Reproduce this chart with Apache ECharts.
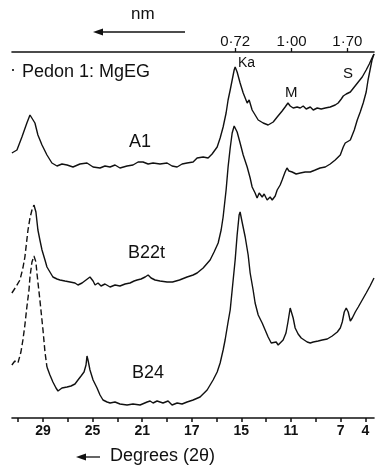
<!DOCTYPE html>
<html>
<head>
<meta charset="utf-8">
<script src="https://cdn.jsdelivr.net/npm/echarts@6/dist/echarts.min.js"></script>
<style>
  html, body { margin: 0; padding: 0; background: #fff; }
  #chart { width: 375px; height: 472px; }
</style>
</head>
<body>
<div id="chart"></div>
<script>
// 2-theta ticks (bottom) and d-spacing marks (top)
const tickValues = [31, 29, 27, 25, 23, 21, 19, 17, 15, 13, 11, 9, 7, 5, 3]
const labelValues = [29, 25, 21, 17, 13, 9, 5, 3]
const labelTexts = ['29', '25', '21', '17', '15', '11', '7', '4']
const nmValues = [13.5, 8.95, 4.45]
const nmTexts = ['0·72', '1·00', '1·70']

// traces: [2theta, intensity]
const a1 = [
    [31.51, 265], [31.10, 268], [30.70, 281], [30.30, 295], [30.05, 303], [29.89, 304],
    [29.65, 295], [29.41, 283], [29.08, 273], [28.68, 263], [28.28, 255], [27.87, 252],
    [27.47, 254], [27.06, 253], [26.58, 251], [26.02, 254], [25.45, 255], [24.96, 251],
    [24.40, 250], [24.00, 252], [23.59, 251], [23.19, 253], [22.79, 250], [22.22, 252],
    [21.74, 253], [21.33, 256], [20.93, 256], [20.52, 254], [20.12, 255], [19.56, 254],
    [18.99, 255], [18.59, 252], [18.18, 251], [17.78, 254], [17.38, 255], [16.89, 256],
    [16.57, 260], [16.08, 261], [15.68, 260], [15.36, 264], [14.95, 271], [14.71, 280],
    [14.47, 291], [14.23, 305], [14.07, 318], [13.90, 328], [13.74, 338], [13.58, 348],
    [13.50, 351], [13.34, 346], [13.10, 335], [12.85, 325], [12.53, 315], [12.37, 318],
    [12.13, 308], [11.64, 298], [11.24, 295], [10.84, 293], [10.43, 296], [10.11, 301],
    [9.71, 307], [9.47, 311], [9.24, 315], [9.06, 312], [8.82, 310], [8.50, 311],
    [8.25, 310], [8.01, 312], [7.77, 309], [7.44, 311], [7.20, 308], [6.88, 310],
    [6.56, 309], [6.23, 310], [5.83, 311], [5.43, 313], [5.19, 315], [4.94, 319],
    [4.78, 322], [4.54, 324], [4.21, 326], [3.89, 331], [3.57, 336], [3.25, 341],
    [2.93, 348], [2.68, 354], [2.46, 360], [2.30, 364]
]

const b22tRise = [
    [31.51, 125], [31.19, 131], [30.86, 138], [30.62, 150], [30.46, 161], [30.21, 188],
    [30.05, 200], [29.89, 208], [29.73, 213]
]
const b22t = [
    [29.73, 213], [29.57, 206], [29.41, 188], [29.25, 178], [29.08, 168], [28.84, 158],
    [28.68, 151], [28.44, 146], [28.20, 141], [27.87, 139], [27.63, 138], [27.23, 137],
    [26.82, 136], [26.42, 135], [26.18, 133], [25.85, 135], [25.53, 138], [25.21, 141],
    [24.96, 137], [24.80, 133], [24.56, 135], [24.32, 132], [24.00, 134], [23.59, 131],
    [23.19, 133], [22.79, 132], [22.38, 134], [21.98, 135], [21.65, 137], [21.41, 138],
    [21.09, 139], [20.76, 141], [20.52, 143], [20.28, 140], [19.96, 138], [19.56, 137],
    [18.99, 136], [18.55, 136], [17.99, 138], [17.38, 141], [16.89, 143], [16.57, 145],
    [16.08, 150], [15.52, 158], [15.20, 166], [14.87, 175], [14.63, 188], [14.47, 201],
    [14.23, 228], [14.07, 251], [13.90, 270], [13.74, 285], [13.58, 292], [13.50, 293],
    [13.34, 286], [13.10, 275], [12.85, 263], [12.53, 251], [12.29, 240], [12.13, 231],
    [11.89, 225], [11.73, 220], [11.56, 225], [11.32, 221], [11.16, 224], [10.92, 218],
    [10.68, 221], [10.51, 218], [10.27, 222], [10.11, 228], [9.87, 233], [9.71, 238],
    [9.47, 246], [9.32, 250], [9.16, 247], [8.90, 246], [8.58, 244], [8.25, 245],
    [7.85, 246], [7.44, 246], [7.04, 248], [6.65, 250], [6.23, 251], [5.83, 254],
    [5.43, 258], [5.02, 263], [4.78, 271], [4.62, 275], [4.46, 273], [4.21, 278],
    [3.89, 288], [3.65, 298], [3.41, 306], [3.17, 315], [2.93, 326], [2.78, 338],
    [2.62, 348], [2.46, 358], [2.30, 364]
]

const b24Dashed = [
    [31.51, 53], [31.27, 57], [31.02, 55], [30.78, 66], [30.62, 78], [30.46, 93],
    [30.30, 111], [30.13, 128], [30.05, 141], [29.89, 156], [29.73, 162], [29.57, 156],
    [29.49, 145], [29.25, 118], [29.00, 88], [28.84, 66], [28.68, 51]
]
const b24 = [
    [28.68, 51], [28.44, 43], [28.20, 36], [27.95, 30], [27.79, 27], [27.47, 30],
    [27.06, 31], [26.74, 32], [26.42, 34], [26.18, 38], [25.93, 42], [25.69, 46],
    [25.53, 53], [25.45, 62], [25.37, 58], [25.21, 48], [24.96, 38], [24.64, 30],
    [24.40, 23], [24.16, 18], [23.83, 16], [23.59, 15], [23.19, 16], [22.79, 14],
    [22.22, 13], [21.74, 14], [21.17, 13], [20.60, 16], [20.36, 17], [20.12, 15],
    [19.80, 17], [19.32, 15], [18.91, 17], [18.59, 13], [18.18, 15], [17.78, 14],
    [17.38, 16], [16.89, 18], [16.33, 21], [15.76, 28], [15.28, 38], [14.95, 46],
    [14.71, 55], [14.47, 68], [14.31, 78], [14.07, 96], [13.90, 108], [13.74, 128],
    [13.50, 158], [13.34, 183], [13.18, 203], [13.10, 206], [12.94, 196], [12.69, 181],
    [12.45, 163], [12.29, 145], [12.05, 128], [11.89, 115], [11.64, 103], [11.32, 95],
    [11.08, 88], [10.84, 81], [10.59, 75], [10.43, 73], [10.19, 76], [10.03, 73],
    [9.87, 75], [9.63, 78], [9.40, 85], [9.24, 96], [9.06, 110], [8.98, 112],
    [8.82, 100], [8.66, 90], [8.42, 84], [8.17, 80], [8.01, 78], [7.69, 76],
    [7.44, 75], [7.20, 76], [6.80, 77], [6.48, 78], [6.07, 79], [5.67, 82],
    [5.26, 86], [5.02, 90], [4.86, 96], [4.70, 106], [4.54, 110], [4.38, 106],
    [4.21, 97], [4.05, 100], [3.81, 106], [3.57, 111], [3.25, 118], [2.93, 125],
    [2.62, 132], [2.30, 140]
]

const ink = '#111'
const font = '"Liberation Sans", Arial, sans-serif'

function trace (data, dashed) {
    return {
        type: 'line',
        data: data,
        showSymbol: false,
        silent: true,
        animation: false,
        lineStyle: {color: ink, width: 1.4, type: dashed ? [6, 3] : 'solid'}
    }
}

function label (text, x, y, size) {
    return {
        type: 'text',
        left: x,
        top: y,
        silent: true,
        style: {text: text, fill: ink, font: (size || 13) + 'px ' + font}
    }
}

const chart = echarts.init(document.getElementById('chart'), null, {renderer: 'canvas'})

const baseAxis = {
    type: 'value',
    inverse: true,
    min: 2.3,
    max: 31.5,
    splitLine: {show: false},
    axisLine: {show: true, lineStyle: {color: ink, width: 1.6}}
}

chart.setOption({
    backgroundColor: '#fff',
    animation: false,
    grid: {left: 12, right: 1, top: 52, bottom: 54},
    xAxis: [
        Object.assign({}, baseAxis, {
            position: 'bottom',
            axisTick: {show: true, length: 4, lineStyle: {color: ink, width: 1.5}, customValues: tickValues},
            axisLabel: {
                customValues: labelValues,
                margin: 6,
                color: ink,
                fontSize: 14,
                fontWeight: 'bold',
                fontFamily: font,
                formatter: function (v) {
                    const i = labelValues.indexOf(v)
                    return i > -1 ? labelTexts[i] : ''
                }
            }
        }),
        Object.assign({}, baseAxis, {
            position: 'top',
            axisTick: {show: true, length: 4, lineStyle: {color: ink, width: 1.3}, customValues: nmValues},
            axisLabel: {
                customValues: nmValues,
                margin: 3,
                color: ink,
                fontSize: 15,
                fontFamily: font,
                formatter: function (v) {
                    const i = nmValues.indexOf(v)
                    return i > -1 ? nmTexts[i] : ''
                }
            }
        })
    ],
    yAxis: {
        type: 'value',
        min: 0,
        max: 366,
        show: false
    },
    series: [
        trace(a1),
        trace(b22tRise, true),
        trace(b22t),
        trace(b24Dashed, true),
        trace(b24)
    ],
    graphic: [
        label('nm', 131, 6, 17),
        {
            type: 'line', silent: true,
            shape: {x1: 100, y1: 32, x2: 185, y2: 32},
            style: {stroke: ink, lineWidth: 1.6}
        },
        {
            type: 'polygon', silent: true,
            shape: {points: [[93, 32], [103, 28.5], [103, 35.5]]},
            style: {fill: ink}
        },
        label('·', 10, 61, 18),
        label('Pedon 1: MgEG', 22, 63, 18),
        label('Ka', 238, 56, 14),
        label('M', 285, 85, 15),
        label('S', 343, 66, 15),
        label('A1', 129, 133, 18),
        label('B22t', 128, 244, 18),
        label('B24', 132, 364, 18),
        {
            type: 'line', silent: true,
            shape: {x1: 84, y1: 457, x2: 100, y2: 457},
            style: {stroke: ink, lineWidth: 1.3}
        },
        {
            type: 'polygon', silent: true,
            shape: {points: [[76, 457], [86, 453.5], [86, 460.5]]},
            style: {fill: ink}
        },
        label('Degrees (2θ)', 110, 447, 18)
    ]
})
</script>
</body>
</html>
